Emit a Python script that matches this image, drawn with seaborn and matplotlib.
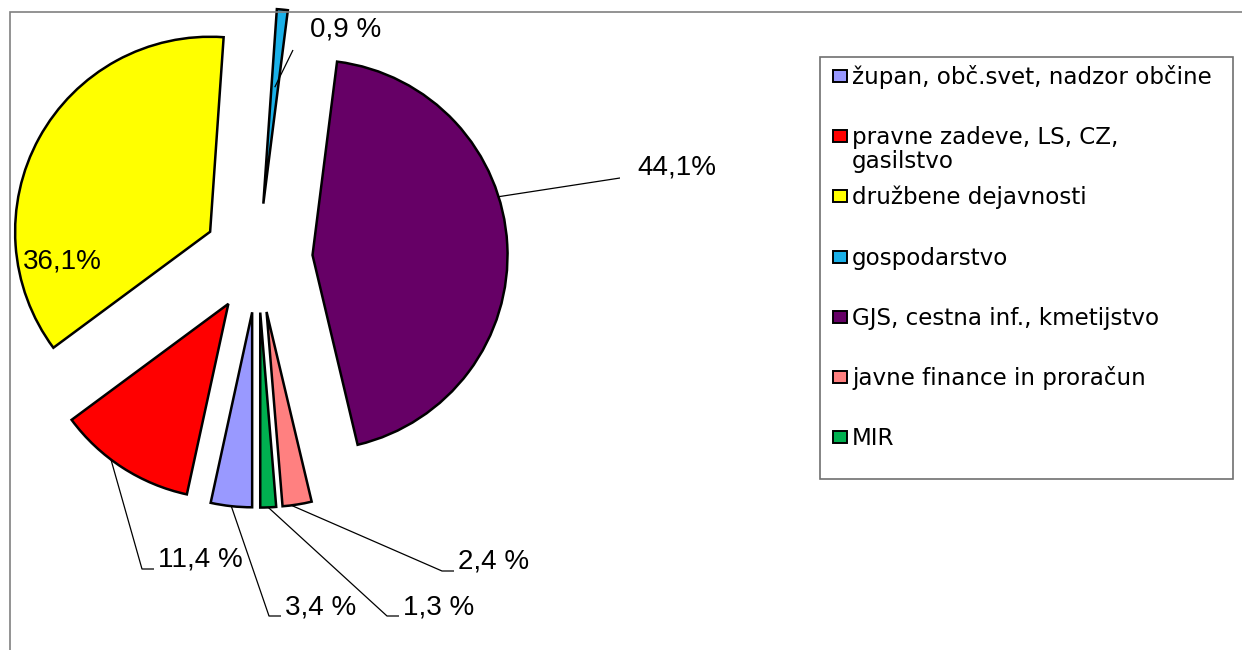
import numpy as np
import seaborn as sns
import matplotlib.pyplot as plt
from matplotlib.patches import Rectangle

# podatki
categories = ['župan, obč.svet, nadzor občine',
              'pravne zadeve, LS, CZ,\ngasilstvo',
              'družbene dejavnosti',
              'gospodarstvo',
              'GJS, cestna inf., kmetijstvo',
              'javne finance in proračun',
              'MIR']
shares = [3.4, 11.4, 36.1, 0.9, 44.1, 2.4, 1.3]
share_labels = ['3,4 %', '11,4 %', '36,1%', '0,9 %', '44,1%', '2,4 %', '1,3 %']
colors = ['#9999FF', '#FF0000', '#FFFF00', '#1AB0E8', '#660066', '#FF8080', '#00B050']

sns.set_theme(style='white')
plt.rcParams['font.family'] = ['Liberation Sans', 'DejaVu Sans']
plt.rcParams['text.color'] = 'black'

W, H = 1242, 650
fig = plt.figure(figsize=(W / 100, H / 100), dpi=100)

# središče torte in polmer v pikslih
cx, cy, R = 258, 258, 195
ax = fig.add_axes([0, 0, 620 / W, 1])
wedges, _ = ax.pie(shares, colors=colors, startangle=-90, counterclock=False,
                   explode=[0.28] * len(shares), radius=1,
                   wedgeprops=dict(edgecolor='black', linewidth=1.8))
ax.set_xlim(-cx / R, (620 - cx) / R)
ax.set_ylim(-(H - cy) / R, cy / R)
ax.set_aspect('equal')
ax.axis('off')


def px(x, y):
    return (x - cx) / R, (cy - y) / R


# postavitev oznak: (x, y teksta v px, delež kota, delež polmera, vrsta črte)
label_layout = [
    (285, 607, 0.5, 1.0, 'elbow'),
    (158, 560, 0.4, 1.0, 'elbow'),
    (23, 262, None, None, None),
    (310, 30, 0.5, 0.6, 'to', (293, 50)),
    (637, 167, 0.59, 1.0, 'to', (633, 176)),
    (458, 562, 0.3, 1.0, 'elbow'),
    (403, 607, 0.5, 1.0, 'elbow'),
]

for w, lab, lay in zip(wedges, share_labels, label_layout):
    tx, ty = lay[0], lay[1]
    ax.text(*px(tx, ty), lab, ha='left', va='center', fontsize=20, color='black')
    if lay[4] is None:
        continue
    ang = np.deg2rad(w.theta1 + lay[2] * (w.theta2 - w.theta1))
    ax0 = w.center[0] + lay[3] * w.r * np.cos(ang)
    ay0 = w.center[1] + lay[3] * w.r * np.sin(ang)
    if lay[4] == 'elbow':
        p1 = px(tx - 16, ty + 9)
        p2 = px(tx - 4, ty + 9)
        xs, ys = [ax0, p1[0], p2[0]], [ay0, p1[1], p2[1]]
    else:
        p1 = px(*lay[5])
        xs, ys = [ax0, p1[0]], [ay0, p1[1]]
    ax.plot(xs, ys, color='black', lw=0.9, solid_capstyle='butt')

# okvir grafikona
fig.add_artist(Rectangle((10 / W, -0.2), 1.2, 1.2 - 12 / H, transform=fig.transFigure,
                         fill=False, edgecolor='#808080', lw=1.2))

# legenda
fig.add_artist(Rectangle((820 / W, 1 - 479 / H), (1233 - 820) / W, (479 - 57) / H,
                         transform=fig.transFigure, fill=False, edgecolor='#707070', lw=1.2))
for i, (cat, col) in enumerate(zip(categories, colors)):
    yc = 76 + i * 60.2
    fig.add_artist(Rectangle((833 / W, 1 - (yc + 6) / H), 14 / W, 12 / H,
                             transform=fig.transFigure, facecolor=col,
                             edgecolor='black', lw=1.4))
    lines = cat.split('\n')
    for j, line in enumerate(lines):
        fig.text(852 / W, 1 - (yc + 8 + j * 24) / H, line, ha='left', va='baseline',
                 fontsize=16.6, family=['DejaVu Sans'], color='black')

fig.savefig('out.png', dpi=100, facecolor='white')
